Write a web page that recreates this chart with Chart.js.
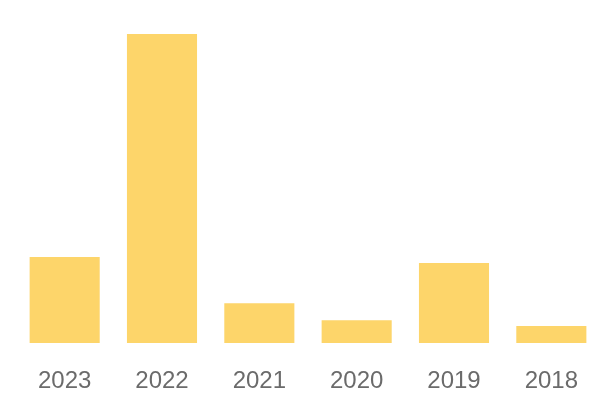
<!DOCTYPE html>
<html>
<head>
<meta charset="utf-8">
<script src="https://cdn.jsdelivr.net/npm/chart.js@4"></script>
<style>
  html, body { margin: 0; padding: 0; background: #fff; }
  #wrap { width: 600px; height: 400px; }
</style>
</head>
<body>
<div id="wrap"><canvas id="yearChart"></canvas></div>
<script>
// years and values
const years = ['2023', '2022', '2021', '2020', '2019', '2018'];
const values = [27.8, 100, 12.9, 7.4, 25.9, 5.5];

const ctx = document.getElementById('yearChart');

new Chart(ctx, {
    type: 'bar',
    data: {
        labels: years,
        datasets: [
            {
                data: values,
                backgroundColor: '#FDD56A',
                borderWidth: 0,
                categoryPercentage: 0.8,
                barPercentage: 0.9
            }
        ]
    },
    options: {
        responsive: true,
        maintainAspectRatio: false,
        animation: false,
        layout: {
            padding: { top: 34, left: 16, right: 0, bottom: 0 }
        },
        plugins: {
            legend: { display: false },
            tooltip: { enabled: false }
        },
        scales: {
            y: {
                display: false,
                min: 0,
                max: 100
            },
            x: {
                grid: { display: false },
                border: { display: false },
                afterFit: (scale) => { scale.height = 57; },
                ticks: {
                    color: '#6b6b6b',
                    padding: 16,
                    font: { family: 'Liberation Sans, Arial, sans-serif', size: 24 }
                }
            }
        }
    }
});
</script>
</body>
</html>
